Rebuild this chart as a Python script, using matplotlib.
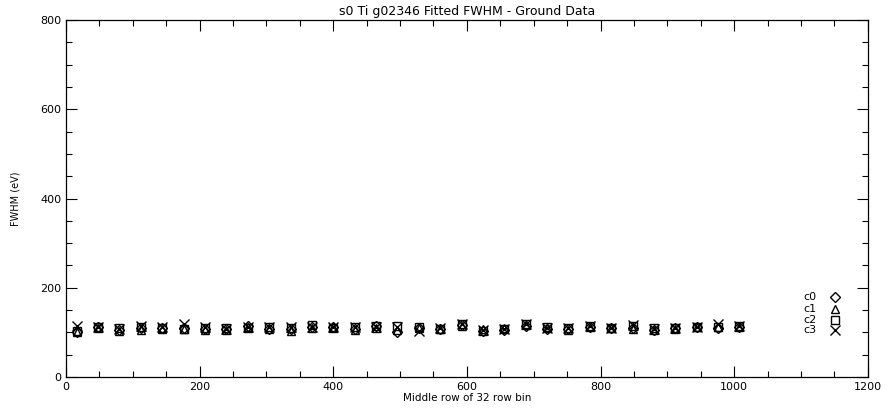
import matplotlib
matplotlib.use("Agg")
import matplotlib.pyplot as plt
from matplotlib.ticker import MultipleLocator

rows = [16, 48, 80, 112, 144, 176, 208, 240, 272, 304, 336, 368, 400, 432, 464, 496,
        528, 560, 592, 624, 656, 688, 720, 752, 784, 816, 848, 880, 912, 944, 976, 1008]
c0 = [100, 112, 106, 110, 109, 110, 108, 107, 114, 108, 108, 112, 111, 108, 114, 102,
      110, 108, 116, 104, 106, 114, 108, 108, 113, 110, 109, 106, 110, 111, 110, 113]
c1 = [102, 110, 104, 106, 108, 107, 106, 106, 112, 107, 104, 110, 112, 106, 110, 106,
      109, 107, 114, 107, 109, 116, 109, 105, 111, 109, 108, 105, 108, 112, 112, 112]
c2 = [104, 113, 110, 113, 110, 108, 110, 109, 110, 113, 110, 116, 110, 111, 114, 114,
      112, 108, 118, 104, 108, 118, 111, 109, 114, 110, 114, 110, 110, 111, 112, 114]
c3 = [115, 112, 108, 114, 113, 118, 112, 108, 112, 111, 113, 112, 111, 113, 111, 113,
      104, 110, 118, 106, 108, 118, 110, 110, 115, 110, 117, 108, 110, 112, 118, 114]
labels = ["c0", "c1", "c2", "c3"]
markers = ["D", "^", "s", "x"]
sizes = {"D": 4.8, "^": 6, "s": 5.8, "x": 6.5}

fig = plt.figure(figsize=(8.9, 4.11), dpi=100)
ax = fig.add_axes([0.0742, 0.0827, 0.9008, 0.8683])

series = [c0, c1, c2, c3]
for s, m in zip(series, markers):
    if m == "x":
        ax.plot(rows, s, linestyle="none", marker=m, ms=sizes[m], mec="black", mew=1.0)
    else:
        ax.plot(rows, s, linestyle="none", marker=m, ms=sizes[m],
                mfc="none", mec="black", mew=1.0)

# legend drawn IDL-style
leg_y = [179, 152, 128, 105]
for lab, m, yy in zip(labels, markers, leg_y):
    ax.text(1124, yy, lab, fontsize=8, ha="right", va="center")
    if m == "x":
        ax.plot([1151], [yy], marker=m, ms=sizes[m], mec="black", mew=1.0, clip_on=False)
    else:
        ax.plot([1151], [yy], marker=m, ms=sizes[m], mfc="none",
                mec="black", mew=1.0, clip_on=False)

ax.set_xlim(0, 1200)
ax.set_ylim(0, 800)
ax.xaxis.set_major_locator(MultipleLocator(200))
ax.xaxis.set_minor_locator(MultipleLocator(50))
ax.yaxis.set_major_locator(MultipleLocator(200))
ax.yaxis.set_minor_locator(MultipleLocator(50))
ax.tick_params(which="both", direction="in", top=True, right=True, labelsize=8, width=0.8)
ax.tick_params(which="major", length=8)
ax.tick_params(which="minor", length=4)
for sp in ax.spines.values():
    sp.set_linewidth(0.9)

ax.set_title("s0 Ti g02346 Fitted FWHM - Ground Data", fontsize=9, pad=4)
ax.set_xlabel("Middle row of 32 row bin", fontsize=7.5, labelpad=1)
ax.set_ylabel("FWHM (eV)", fontsize=7, labelpad=14)

fig.savefig("out.png", dpi=100)
